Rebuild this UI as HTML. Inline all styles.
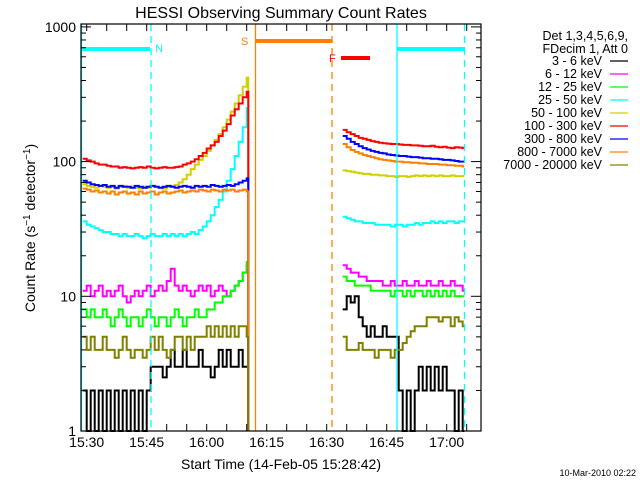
<!DOCTYPE html>
<html><head><meta charset="utf-8"><style>
html,body{margin:0;padding:0;background:#fff;width:640px;height:480px;overflow:hidden}
svg{display:block;font-family:"Liberation Sans",sans-serif}
</style></head><body>
<svg id="chart" width="640" height="480" viewBox="0 0 640 480" xmlns="http://www.w3.org/2000/svg">
<rect width="640" height="480" fill="#fff"/>
<text x="281" y="18" font-size="16" text-anchor="middle">HESSI Observing Summary Count Rates</text>
<text transform="translate(35,228) rotate(-90)" font-size="14" text-anchor="middle">Count Rate (s<tspan font-size="10" dy="-5">−1</tspan><tspan dy="5"> detector</tspan><tspan font-size="10" dy="-5">−1</tspan><tspan dy="5">)</tspan></text>
<text x="281" y="469" font-size="14" text-anchor="middle">Start Time (14-Feb-05 15:28:42)</text>
<text x="636" y="476" font-size="9" text-anchor="end">10-Mar-2010 02:22</text>
<g id="legend" font-size="12.5" text-anchor="end">
<text x="628" y="40">Det 1,3,4,5,6,9,</text>
<text x="628" y="53">FDecim 1, Att 0</text>
</g>
<g id="marks"></g>
<g id="axes"></g>
</svg>
<script>
// ---- data ----
const bands = ["3 - 6 keV","6 - 12 keV","12 - 25 keV","25 - 50 keV","50 - 100 keV","100 - 300 keV","300 - 800 keV","800 - 7000 keV","7000 - 20000 keV"];
const colors = ["#000000","#ff00ff","#00ff00","#00ffff","#d0d000","#ff0000","#0000ff","#ff8000","#808000"];
const xTickLabels = ["15:30","15:45","16:00","16:15","16:30","16:45","17:00"];
const xTickMinutes = [0,15,30,45,60,75,90];
const yTickLabels = ["1","10","100","1000"];
const yTickValues = [1,10,100,1000];
// minutes after 15:30
const timesLeft = [-1,0,1,2,3,4,5,6,7,8,9,10,11,12,13,14,15,16,17,18,19,20,21,22,23,24,25,26,27,28,29,30,31,32,33,34,35,36,37,38,39,40];
const timesRight = [64,65,66,67,68,69,70,71,72,73,74,75,76,77,78,79,80,81,82,83,84,85,86,87,88,89,90,91,92,93,94];
const kev3to6L = [2,1,2,1,2,1,2,1,2,1,2,1,2,1,2,1,2,3,3,3,2.5,3,4,3,3,4,3,3,3,4,3,3,2.5,3,4,3,4,3,3,4,3,3];
const kev6to12L = [11,12,10,11,12,10,11,10,11,12,10,9,10,11,10,11,12,10,11,12,11,13,16,12,11,12,11,10,11,12,11,12,10,11,12,11,10,11,12,13,15,17];
const kev12to25L = [8,7,8,7,7,8,7,6,7,8,7,6,7,7,6,7,8,7,6,7,7,6,7,8,7,6,7,7,8,7,7,8,8,9,9,10,10,11,12,13,15,18];
const kev25to50L = [36,34,33,32,31,30,30,29,29,28,29,28,28,29,28,27,28,29,28,28,29,28,29,28,29,28,29,30,29,31,33,36,40,46,52,60,72,88,110,140,180,250];
const kev50to100L = [68,66,65,64,66,65,64,65,63,65,66,64,65,64,63,65,64,66,65,64,63,65,66,67,70,74,80,88,95,103,110,120,132,145,160,180,205,235,270,310,360,420];
const kev100to300L = [105,102,100,97,95,95,93,92,92,90,91,90,89,90,91,90,92,90,89,90,91,90,90,91,92,95,97,100,104,110,116,125,132,140,155,170,190,220,245,270,300,330];
const kev300to800L = [72,70,68,67,66,67,65,66,64,66,65,65,64,66,65,64,65,66,65,64,65,66,65,64,65,66,65,64,66,65,66,65,67,66,65,66,67,66,68,70,72,75];
const kev800to7000L = [63,62,60,61,59,60,58,60,57,59,60,58,59,57,60,58,59,60,57,59,60,58,59,60,61,59,60,61,60,62,61,60,62,61,60,62,61,62,60,61,62,60];
const kev7000to20000L = [5,4,5,4,4,5,4,4,3.5,4,5,4,3.5,4,4,3.5,4,5,4,5,4,3.5,4,5,5,4,5,4,5,5,5,6,5,6,5,6,5,6,5,6,6,5];
const kev3to6R = [8,10,9,10,7,6,5,6,5,5,6,5,5,5,2,1,2,1,2,3,2,3,2,3,2,3,2,2,1,2,1];
const kev6to12R = [17,16,15,15,14,14,13,13,13,13,12,12,13,12,12,13,12,12,13,12,12,13,12,12,13,12,12,13,12,12,11];
const kev12to25R = [14,13,13,12,12,12,12,11,11,11,11,11,10,11,11,10,11,10,11,11,10,11,10,11,10,11,10,11,10,10,10];
const kev25to50R = [39,38,37,36,36,35,35,35,34,34,34,34,33,34,34,33,34,34,35,34,35,35,36,35,36,35,36,36,35,36,36];
const kev50to100R = [86,85,84,83,82,81,81,80,80,79,79,78,78,77,78,78,77,78,79,78,79,78,79,78,79,78,78,79,78,78,78];
const kev100to300R = [172,165,160,155,150,148,145,142,140,138,137,136,135,135,134,133,133,132,132,131,130,130,131,129,128,129,127,126,128,127,126];
const kev300to800R = [155,148,140,135,130,126,123,120,118,116,115,113,112,111,110,110,109,108,108,107,106,106,105,105,104,103,103,102,101,100,100];
const kev800to7000R = [135,128,122,118,115,112,110,108,106,104,103,102,101,100,100,99,99,98,98,97,97,96,96,96,95,95,94,94,93,93,92];
const kev7000to20000R = [5,4,4,4,4.5,4,4,4,3.5,4,4,4,3.5,4,4,4.5,5,5.5,6,6,6,7,7,7,6.5,7,7,6,7,6.5,6];
const leftSeries = [kev3to6L,kev6to12L,kev12to25L,kev25to50L,kev50to100L,kev100to300L,kev300to800L,kev800to7000L,kev7000to20000L];
const rightSeries = [kev3to6R,kev6to12R,kev12to25R,kev25to50R,kev50to100R,kev100to300R,kev300to800R,kev800to7000R,kev7000to20000R];
const leftEnd = 40.4, rightEnd = 94.4;

// ---- axes functions ----
const X0 = 81, X1 = 481, Y0 = 24, Y1 = 431;
function xs(m){ return 86.7 + 4*m; }
function ys(v){ return 431 - 134.7*Math.log10(v); }
const NS = "http://www.w3.org/2000/svg";
function mk(tag, attrs, parent){ const e = document.createElementNS(NS, tag); for (const k in attrs) e.setAttribute(k, attrs[k]); parent.appendChild(e); return e; }
const marks = document.getElementById('marks');
const axes = document.getElementById('axes');
const legend = document.getElementById('legend');

function stepPath(times, vals, end){
  let d = "";
  for (let i = 0; i < times.length; i++){
    const x = xs(times[i]), y = ys(vals[i]);
    const xn = i < times.length-1 ? xs(times[i+1]) : xs(end);
    d += (i === 0 ? "M" : "L") + x.toFixed(1) + "," + y.toFixed(1) + "L" + xn.toFixed(1) + "," + y.toFixed(1);
  }
  return d;
}

// series
for (let s = 0; s < bands.length; s++){
  const pl = mk('path', {d: stepPath(timesLeft, leftSeries[s], leftEnd) + "L" + xs(leftEnd).toFixed(1) + "," + Y1, fill: "none", stroke: colors[s], 'stroke-width': 2}, marks);
  
  
  const pr = mk('path', {d: stepPath(timesRight, rightSeries[s], rightEnd), fill: "none", stroke: colors[s], 'stroke-width': 2}, marks);
  
  
}

// vertical event lines and flag bars
function vline(x, color, dash, name){
  const l = mk('line', {x1: x, x2: x, y1: Y0, y2: Y1, stroke: color, 'stroke-width': 1.3}, marks);
  if (dash) l.setAttribute('stroke-dasharray', '7,5');
  
  
}
vline(81.5, "#00ffff", false, 'night-end-line');
vline(151, "#00ffff", true, 'night-start-dashed-line');
vline(255.5, "#ff8000", false, 'saa-start-line');
vline(332, "#ff8000", true, 'saa-end-dashed-line');
vline(397, "#00ffff", false, 'night2-start-line');
vline(464.5, "#00ffff", true, 'night2-end-dashed-line');
function hbar(x1, x2, y, color, name){
  const r = mk('rect', {x: x1, y: y-2, width: x2-x1, height: 4, fill: color}, marks);
  
  
}
hbar(81, 150, 49, "#00ffff", 'night-bar-1');
hbar(256, 332, 41, "#ff8000", 'saa-bar');
hbar(341, 370, 58, "#ff0000", 'flare-bar');
hbar(397, 465, 49, "#00ffff", 'night-bar-2');
function flag(x, y, t, c, name){
  const e = mk('text', {x: x, y: y, fill: c, 'font-size': 11}, marks);
  e.textContent = t;
  
  
}
flag(155, 52, "N", "#00ffff", 'night-flag-label');
flag(241, 45, "S", "#ff8000", 'saa-flag-label');
flag(329, 62, "F", "#ff0000", 'flare-flag-label');

// frame
const frame = mk('rect', {x: X0, y: Y0, width: X1-X0, height: Y1-Y0, fill: "none", stroke: "#000", 'stroke-width': 1.2}, axes);



// x ticks every 5 min
for (let m = -1; m <= 99; m++){
  if (m % 5 !== 0) continue;
  const x = xs(m);
  if (x < X0 || x > X1) continue;
  mk('line', {x1: x, x2: x, y1: Y1, y2: Y1-7, stroke: "#000"}, axes);
  mk('line', {x1: x, x2: x, y1: Y0, y2: Y0+7, stroke: "#000"}, axes);
}
for (let i = 0; i < xTickLabels.length; i++){
  const t = mk('text', {x: xs(xTickMinutes[i]), y: 447, 'font-size': 14, 'text-anchor': 'middle'}, axes);
  t.textContent = xTickLabels[i];
  
  
}
// y ticks
for (let d = 1; d <= 1000; d *= 10){
  for (let k = 1; k <= 9; k++){
    const v = d*k;
    if (v > 1046) break;
    const y = ys(v);
    const len = k === 1 ? 10 : 5;
    mk('line', {x1: X0, x2: X0+len, y1: y, y2: y, stroke: "#000"}, axes);
    mk('line', {x1: X1, x2: X1-len, y1: y, y2: y, stroke: "#000"}, axes);
  }
}
for (let i = 0; i < yTickLabels.length; i++){
  const t = mk('text', {x: 76, y: ys(yTickValues[i]) + 5, 'font-size': 14, 'text-anchor': 'end'}, axes);
  t.textContent = yTickLabels[i];
  
  
}

// legend
for (let s = 0; s < bands.length; s++){
  const y = 61 + 13*s;
  const t = mk('text', {x: 602, y: y + 4}, legend);
  t.textContent = bands[s];
  
  
  const l = mk('line', {x1: 610, x2: 628, y1: y, y2: y, stroke: colors[s], 'stroke-width': 1.2}, legend);
  
  
}
</script>
</body></html>
